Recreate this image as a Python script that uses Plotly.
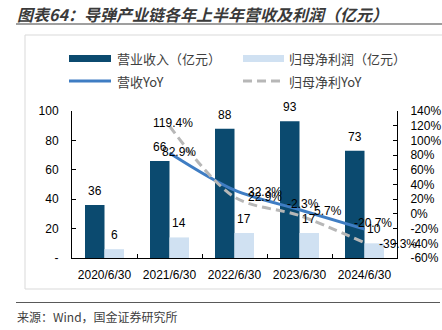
import plotly.graph_objects as go

# ---- data -------------------------------------------------------------
periods = ["2020/6/30", "2021/6/30", "2022/6/30", "2023/6/30", "2024/6/30"]
revenue = [36, 66, 88, 93, 73]          # 营业收入（亿元）
net_profit = [6, 14, 17, 17, 10]        # 归母净利润（亿元）
yoy_periods = periods[1:]
revenue_yoy = [82.9, 32.3, 5.7, -20.7]  # 营收YoY (%)
profit_yoy = [119.4, 22.9, -2.3, -39.3] # 归母净利YoY (%)

left_ticks = [0, 20, 40, 60, 80, 100]
left_ticktext = ["-", "20", "40", "60", "80", "100"]
right_ticks = [-60, -40, -20, 0, 20, 40, 60, 80, 100, 120, 140]
right_ticktext = [f"{t}%" for t in right_ticks]

# ---- styling ----------------------------------------------------------
W, H = 442, 330
PL, PR, PT, PB = 72, 397, 111, 258          # plot-area edges in pixels
C_REV = "#0b4a6f"
C_PROFIT = "#d0e1f2"
C_REV_LINE = "#3f7dc3"
C_PROFIT_LINE = "#b7b7b7"
CJK = "Noto Sans CJK SC"
LAT = "Liberation Sans, Arial, sans-serif"


def px(x):
    return (x - PL) / (PR - PL)


def py(y):
    return (PB - y) / (PB - PT)


fig = go.Figure()

fig.add_trace(go.Bar(x=periods, y=revenue, name="营业收入（亿元）",
                     marker=dict(color=C_REV, line=dict(width=0))))
fig.add_trace(go.Bar(x=periods, y=net_profit, name="归母净利润（亿元）",
                     marker=dict(color=C_PROFIT, line=dict(width=0))))
fig.add_trace(go.Scatter(x=yoy_periods, y=revenue_yoy, yaxis="y2", mode="lines",
                         name="营收YoY",
                         line=dict(color=C_REV_LINE, width=3, shape="spline", smoothing=0.9)))
fig.add_trace(go.Scatter(x=yoy_periods, y=profit_yoy, yaxis="y2", mode="lines",
                         name="归母净利YoY",
                         line=dict(color=C_PROFIT_LINE, width=3, shape="spline", smoothing=0.9,
                                   dash="9px,5px")))

annotations = []

# bar value labels
half_bar = 0.3 * (PR - PL) / len(periods) / 2
for cat, v in zip(periods, revenue):
    annotations.append(dict(x=cat, y=v, xref="x", yref="y", text=str(v), showarrow=False,
                            xshift=-half_bar, yshift=14, yanchor="middle",
                            font=dict(family=LAT, size=12, color="#000")))
for cat, v in zip(periods, net_profit):
    annotations.append(dict(x=cat, y=v, xref="x", yref="y", text=str(v), showarrow=False,
                            xshift=half_bar, yshift=14, yanchor="middle",
                            font=dict(family=LAT, size=12, color="#000")))

# YoY labels with their individual placements
rev_shift = [(9.5, 1), (30, -2), (28, -1), (8, 6.5)]
prof_shift = [(3, 3.5), (30, 0), (3, 12), (33, -1)]
for cat, v, (dx, dy) in zip(yoy_periods, revenue_yoy, rev_shift):
    annotations.append(dict(x=cat, y=v, xref="x", yref="y2", text=f"{v:.1f}%", showarrow=False,
                            xshift=dx, yshift=dy, yanchor="middle",
                            font=dict(family=LAT, size=12, color="#000")))
for cat, v, (dx, dy) in zip(yoy_periods, profit_yoy, prof_shift):
    annotations.append(dict(x=cat, y=v, xref="x", yref="y2", text=f"{v:.1f}%", showarrow=False,
                            xshift=dx, yshift=dy, yanchor="middle",
                            font=dict(family=LAT, size=12, color="#000")))

# title and source
annotations.append(dict(x=px(15), y=py(14), xref="paper", yref="paper", showarrow=False,
                        xanchor="left", yanchor="middle",
                        text="<b><i>图表64：导弹产业链各年上半年营收及利润（亿元）</i></b>",
                        font=dict(family=CJK, size=16, color="#3a3a3a")))
annotations.append(dict(x=px(15), y=py(316), xref="paper", yref="paper", showarrow=False,
                        xanchor="left", yanchor="middle",
                        text="来源：Wind，国金证券研究所",
                        font=dict(family=CJK, size=12, color="#404040")))

# legend texts
legend_items = [
    (115, 58.5, "营业收入（亿元）"),
    (287, 58.5, "归母净利润（亿元）"),
    (115, 81, "营收YoY"),
    (287, 81, "归母净利YoY"),
]
for lx, ly, txt in legend_items:
    annotations.append(dict(x=px(lx), y=py(ly), xref="paper", yref="paper", showarrow=False,
                            xanchor="left", yanchor="middle", text=txt,
                            font=dict(family=CJK, size=13, color="#404040")))

shapes = [
    # outer chart frame
    dict(type="rect", xref="paper", yref="paper", x0=px(25), x1=px(446), y0=py(35), y1=py(289),
         line=dict(color="#d9d9d9", width=1), fillcolor="rgba(0,0,0,0)", layer="below"),
    # rule under title
    dict(type="line", xref="paper", yref="paper", x0=px(16), x1=px(442), y0=py(24), y1=py(24),
         line=dict(color="#7f7f7f", width=1.5)),
    # rule above source
    dict(type="line", xref="paper", yref="paper", x0=px(16), x1=px(440), y0=py(302.5), y1=py(302.5),
         line=dict(color="#595959", width=1)),
    # legend swatches
    dict(type="rect", xref="paper", yref="paper", x0=px(69), x1=px(111), y0=py(55), y1=py(62),
         line=dict(width=0), fillcolor=C_REV),
    dict(type="rect", xref="paper", yref="paper", x0=px(243), x1=px(284), y0=py(55), y1=py(62),
         line=dict(width=0), fillcolor=C_PROFIT),
    dict(type="line", xref="paper", yref="paper", x0=px(69), x1=px(111), y0=py(81), y1=py(81),
         line=dict(color=C_REV_LINE, width=3)),
    dict(type="line", xref="paper", yref="paper", x0=px(243), x1=px(284), y0=py(81), y1=py(81),
         line=dict(color=C_PROFIT_LINE, width=3, dash="9px,5px")),
]

fig.update_layout(
    width=W, height=H,
    margin=dict(l=PL, r=W - PR, t=PT, b=H - PB, pad=0, autoexpand=False),
    paper_bgcolor="white", plot_bgcolor="white",
    barmode="group", bargap=0.4, bargroupgap=0,
    showlegend=False,
    font=dict(family=LAT, size=12, color="#000"),
    xaxis=dict(type="category", range=[-0.5, len(periods) - 0.5],
               showline=True, linecolor="#000", linewidth=1,
               ticks="inside", ticklen=4, tickcolor="#000", tickson="boundaries",
               tickangle=0, showgrid=False, zeroline=False, ticklabelstandoff=6,
               automargin=False,
               tickfont=dict(family=LAT, size=12, color="#000")),
    yaxis=dict(range=[0, 100], tickvals=left_ticks, ticktext=left_ticktext,
               showline=True, linecolor="#000", linewidth=1,
               ticks="inside", ticklen=4, tickcolor="#000", automargin=False,
               showgrid=False, zeroline=False, ticklabelstandoff=10,
               tickfont=dict(family=LAT, size=12, color="#000")),
    yaxis2=dict(range=[-60, 140], tickvals=right_ticks, ticktext=right_ticktext,
                overlaying="y", side="right", automargin=False,
                showline=True, linecolor="#000", linewidth=1,
                ticks="inside", ticklen=4, tickcolor="#000",
                showgrid=False, zeroline=False, ticklabelstandoff=10,
                tickfont=dict(family=LAT, size=12, color="#000")),
    annotations=annotations,
    shapes=shapes,
)

fig.write_html("out.html")
